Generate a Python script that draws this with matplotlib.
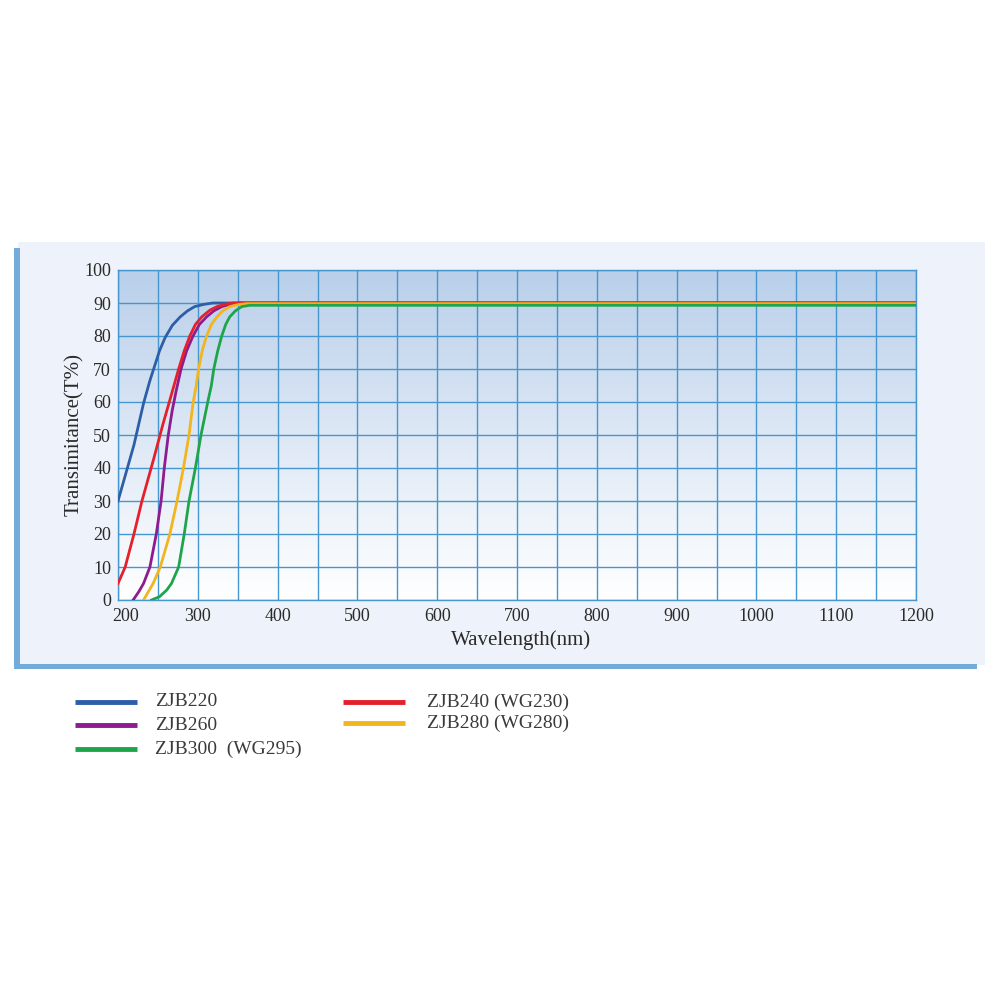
import numpy as np
import matplotlib
matplotlib.use("Agg")
import matplotlib.pyplot as plt
import matplotlib.transforms as mtransforms
from matplotlib.lines import Line2D
from matplotlib.patches import Rectangle
from matplotlib.colors import LinearSegmentedColormap

# transmittance curves (wavelength nm, T %)
zjb220_wl = [200, 210, 220, 232, 240, 246, 252, 259, 268, 278, 287, 296, 308, 319, 335, 360, 1200]
zjb220_t = [30, 38.5, 47, 59.6, 66.5, 71, 75.5, 79.5, 83.2, 85.8, 87.6, 88.9, 89.6, 90, 90, 90, 90]

zjb240_wl = [200, 209, 220, 230, 245, 256, 265, 276, 283, 290, 297, 305, 315, 324, 334, 344, 360, 1200]
zjb240_t = [5, 10, 20, 30, 43, 53, 60.6, 70, 75.5, 80, 83.5, 85.8, 87.8, 88.9, 89.6, 90, 90, 90]

zjb260_wl = [219, 226, 232, 240, 248, 254, 258, 263, 268, 273, 279, 286, 294, 302, 311, 320, 330, 340, 353, 1200]
zjb260_t = [0, 2.5, 5, 10, 20, 30, 40, 50, 57.5, 63.5, 70, 75.5, 80, 83.5, 85.8, 87.6, 88.9, 89.6, 90, 90]

zjb280_wl = [232, 238, 244, 253, 265, 274, 282, 289, 294, 298, 301, 306, 311, 317, 324, 331, 340, 350, 361, 1200]
zjb280_t = [0, 2.5, 5, 10, 20, 30, 40, 50, 59.6, 65, 70, 76, 80, 83.5, 85.8, 87.6, 88.9, 89.5, 89.8, 89.8]

zjb300_wl = [242, 252, 261, 267, 276, 283, 289, 297, 304, 313, 317, 320, 325, 330, 335, 340, 347, 355, 365, 1200]
zjb300_t = [0, 1, 3, 5, 10, 20, 30, 40, 50, 60.6, 65, 70, 75.5, 80, 83.5, 85.8, 87.6, 88.9, 89.3, 89.3]

series = [
    ("ZJB220", zjb220_wl, zjb220_t, "#2c5fa8"),
    ("ZJB260", zjb260_wl, zjb260_t, "#8e1b8f"),
    ("ZJB240 (WG230)", zjb240_wl, zjb240_t, "#e3202c"),
    ("ZJB280 (WG280)", zjb280_wl, zjb280_t, "#f2b51e"),
    ("ZJB300  (WG295)", zjb300_wl, zjb300_t, "#1ea54a"),
]

x_ticks = [200, 300, 400, 500, 600, 700, 800, 900, 1000, 1100, 1200]
y_ticks = [0, 10, 20, 30, 40, 50, 60, 70, 80, 90, 100]

serif = ["Liberation Serif", "DejaVu Serif"]
grid_c = "#4697d0"
text_c = "#2a2a2a"

fig = plt.figure(figsize=(10, 10), dpi=100)
fig.patch.set_facecolor("white")

# panel background and the blue bars on its left and bottom
fig.add_artist(Rectangle((0.018, 0.335), 0.967, 0.423, transform=fig.transFigure,
                         facecolor="#eef2fa", edgecolor="none", zorder=0))
fig.add_artist(Rectangle((0.014, 0.332), 0.006, 0.420, transform=fig.transFigure,
                         facecolor="#74acd9", edgecolor="none", zorder=1))
fig.add_artist(Rectangle((0.014, 0.331), 0.963, 0.005, transform=fig.transFigure,
                         facecolor="#74acd9", edgecolor="none", zorder=1))

ax = fig.add_axes([0.118, 0.40, 0.798, 0.33])
ax.set_facecolor("none")

# vertical gradient, blue at top fading to white
cmap = LinearSegmentedColormap.from_list("bg", ["#ffffff", "#dde8f5", "#b9cfea"])
grad = np.linspace(0, 1, 256).reshape(-1, 1)
ax.imshow(grad, cmap=cmap, extent=[200, 1200, 0, 100], origin="lower",
          aspect="auto", zorder=0)

for name, wl, t, c in series:
    ax.plot(wl, t, color=c, lw=2.0, zorder=3, solid_joinstyle="round")

ax.set_xlim(200, 1200)
ax.set_ylim(0, 100)
ax.set_xticks(np.arange(200, 1201, 50))
ax.set_xticklabels([str(v) if v in x_ticks else "" for v in range(200, 1201, 50)])
ax.set_yticks(y_ticks)
ax.set_yticklabels([str(v) for v in y_ticks])
ax.grid(True, color=grid_c, lw=1.0, zorder=1)
for s in ax.spines.values():
    s.set_color(grid_c)
    s.set_linewidth(1.0)
ax.tick_params(axis="y", length=0, pad=5, labelsize=13, labelcolor=text_c)
ax.tick_params(axis="x", length=0, pad=6, labelsize=13, labelcolor=text_c)
for lbl in ax.get_xticklabels() + ax.get_yticklabels():
    lbl.set_fontfamily(serif)

# the first wavelength label sits a little right of the corner, as in the original
first = ax.get_xticklabels()[0]
first.set_transform(first.get_transform() +
                    mtransforms.ScaledTranslation(8 / 100, 0, fig.dpi_scale_trans))

ax.set_xlabel("Wavelength(nm)", fontsize=15, family=serif, color=text_c, va="center")
ax.xaxis.set_label_coords(0.505, -0.121)
ax.set_ylabel("Transimitance(T%)", fontsize=15, family=serif, color=text_c, va="center")
ax.yaxis.set_label_coords(-0.054, 0.5)

# legend below the panel
legend_pos = [(0.075, 0.298), (0.075, 0.275), (0.343, 0.298), (0.343, 0.277), (0.075, 0.251)]
for (name, wl, t, c), (lx, ly) in zip(series, legend_pos):
    fig.add_artist(Line2D([lx, lx + 0.062], [ly, ly], transform=fig.transFigure,
                          color=c, lw=3.5, solid_capstyle="butt"))
    tx = 0.155 if lx < 0.2 else 0.427
    fig.text(tx, ly, name, fontsize=14, family=serif, color="#3a3a3a", va="center")

fig.savefig("out.png", dpi=100, facecolor="white")
